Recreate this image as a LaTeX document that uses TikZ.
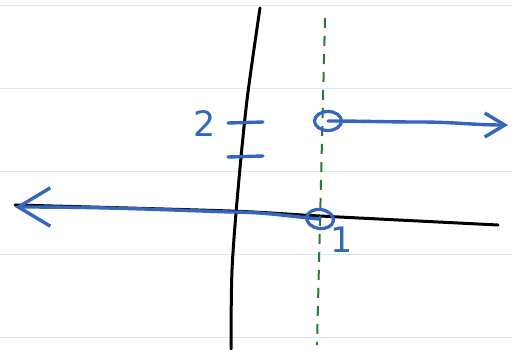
\documentclass[tikz,border=0pt]{standalone}
\usepackage{fontspec}
\usepackage{tikz}
\usetikzlibrary{arrows.meta, shapes.geometric, positioning}
\newfontfamily\handfont{DejaVu Sans}
\definecolor{PenBlue}  {HTML}{3566BE}
\definecolor{PenGreen} {HTML}{2A7A36}
\definecolor{RuleBlue} {HTML}{D5EAF8}

\begin{document}
\begin{tikzpicture}[
  x=1pt, y=-1pt,
  rule/.style  = {RuleBlue, line width=1pt},
  axis/.style  = {black, line width=3pt, line cap=round},
  pen/.style   = {PenBlue, line width=3.4pt, line cap=round, line join=round},
  ray/.style   = {pen, -{Straight Barb[length=#1, width=1.2*#1]}},
  ocirc/.style = {ellipse, draw=PenBlue, line width=3.2pt, inner sep=0pt,
                  minimum width=27pt, minimum height=19pt},
  vline/.style = {PenGreen, line width=2pt, dash pattern=on 10pt off 8pt},
  num/.style   = {font=\handfont\fontsize{35}{35}\selectfont, text=PenBlue},
]
\useasboundingbox (0,0) rectangle (512,349);
\foreach \y in {5,88,171,254,337}
  \draw[rule] (0,\y) -- (512,\y);
% axes
\draw[axis] plot[smooth] coordinates {(260,8) (247,100) (238,190) (232,270) (231,349)};
\draw[axis] plot[smooth] coordinates {(15,205) (230,211) (320,216) (498,225)};
\draw[vline] (325,18) -- (317,345);
% ticks on the y axis
\draw[pen] (228,123) -- (263,122);
\draw[pen] (228,157) -- (263,156);
\node[num] (two) at (205,124) {2};
% open points and rays
\node[ocirc] (up) at (328,121) {};
\node[ocirc, rotate=-8] (lo) at (320,219) {};
\node[num, below right=-5pt and -3pt of lo] (one) {1};
\coordinate (rend) at (508,125);
\coordinate (lend) at (15,207);
\draw[ray=20pt] (up.center) to[out=0, in=180] (420,122) to[out=0, in=180] (rend);
\draw[ray=32pt] (lo.center) to[out=175, in=0] (230,212) to[out=178, in=0] (lend);
\end{tikzpicture}
\end{document}
